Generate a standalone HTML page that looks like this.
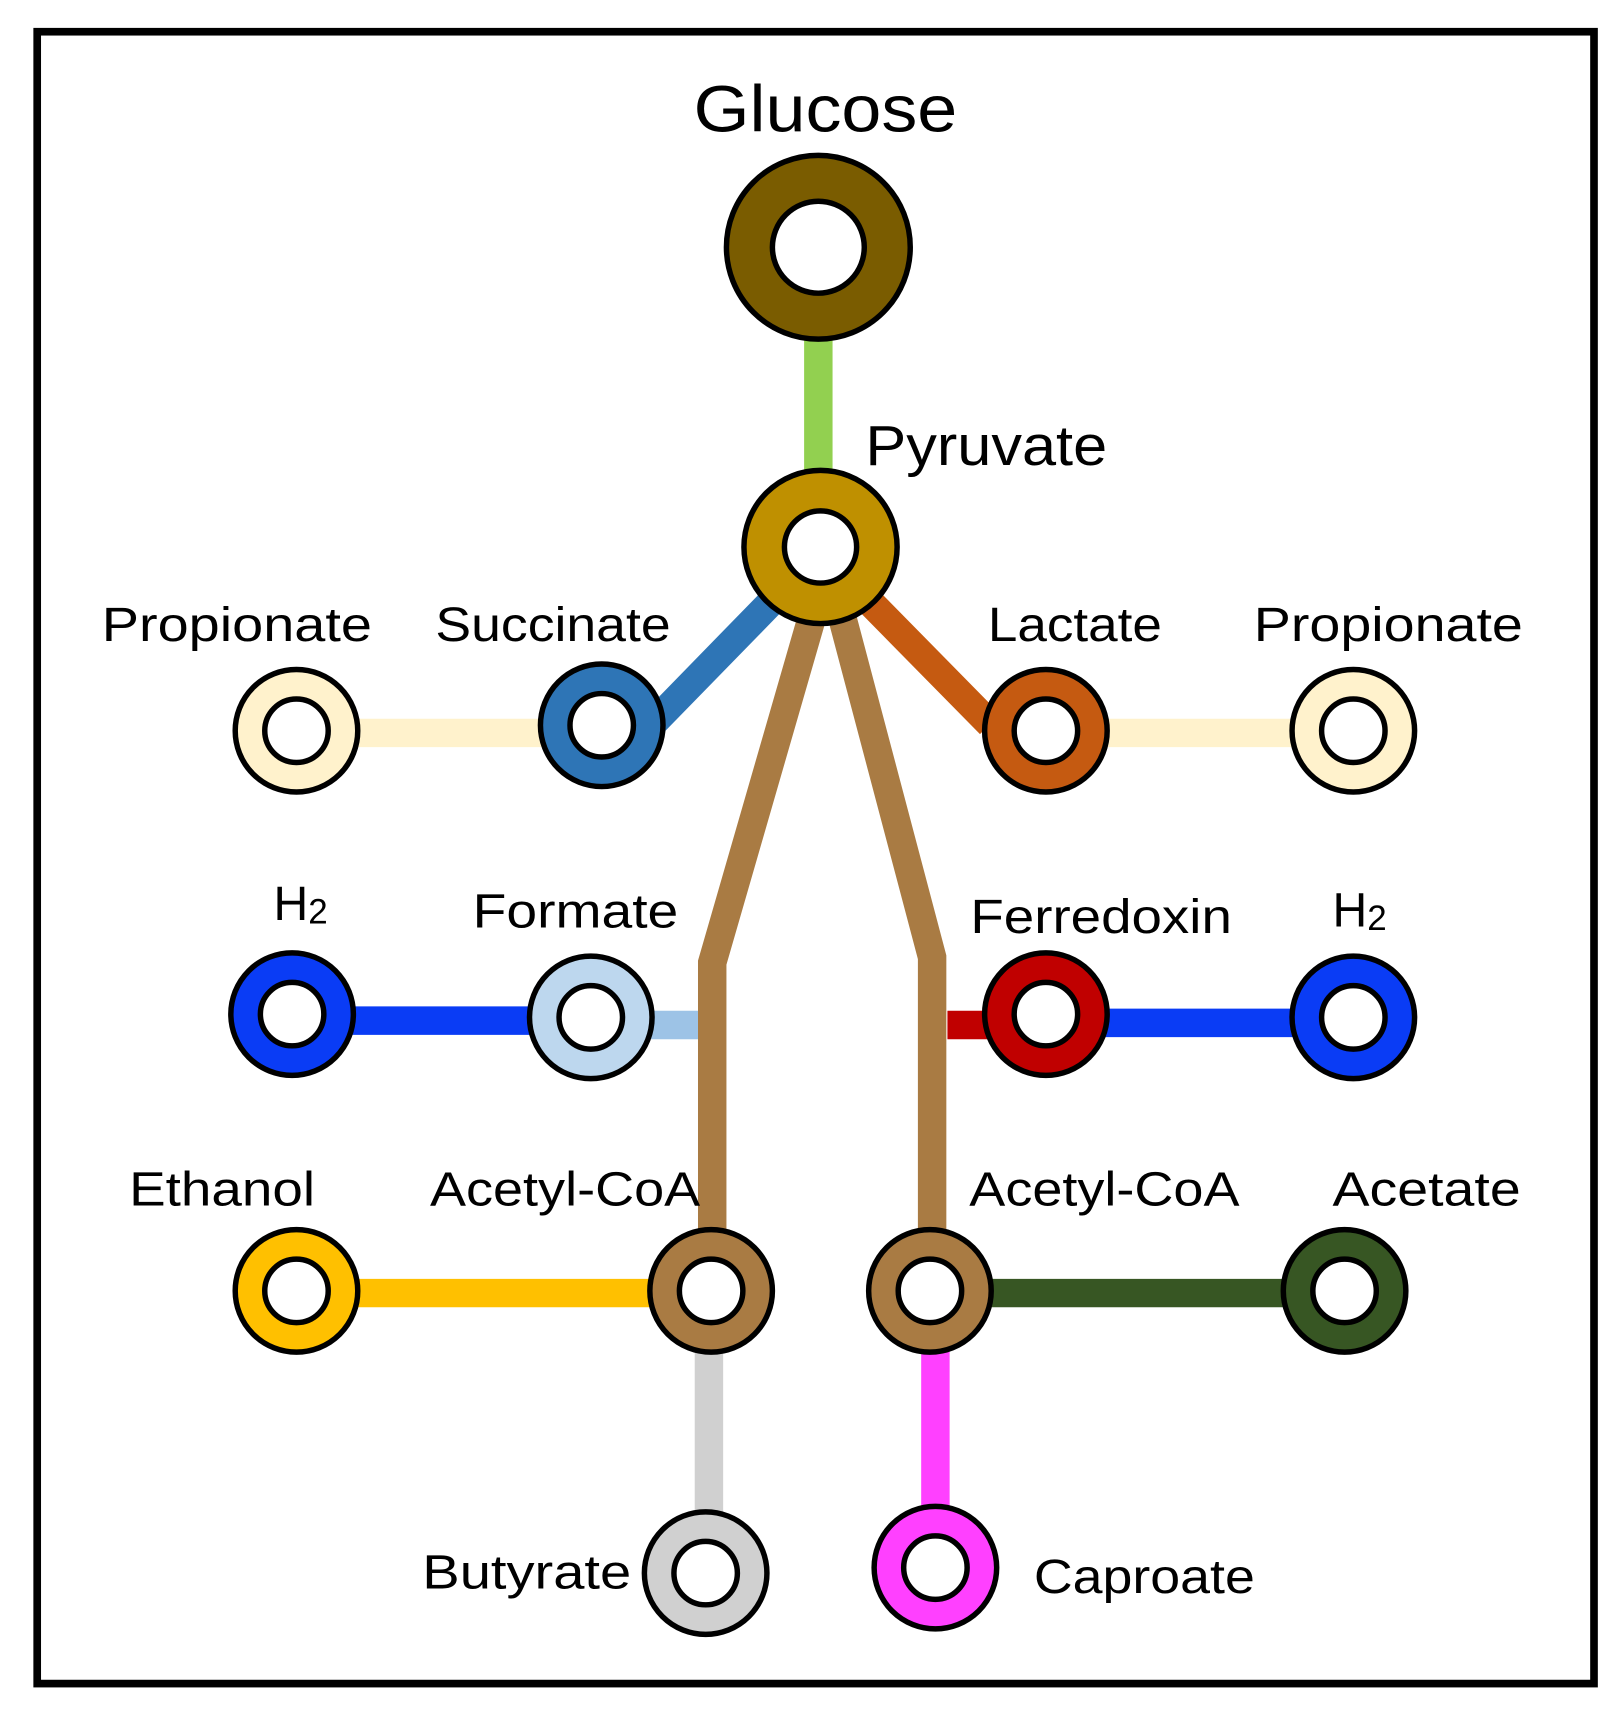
<!DOCTYPE html>
<html><head><meta charset="utf-8"><style>
html,body{margin:0;padding:0;background:#fff;}
svg{display:block;}
text{font-family:"Liberation Sans",sans-serif;fill:#000;}
</style></head><body>
<svg width="1623" height="1714" viewBox="0 0 1483.5 1566.8" preserveAspectRatio="none" xmlns="http://www.w3.org/2000/svg">
<rect x="0" y="0" width="1483.5" height="1566.8" fill="#fff"/>
<rect x="34" y="29" width="1423" height="1510" fill="none" stroke="#000" stroke-width="7"/>
<g fill="none" stroke-width="26">
<line x1="748" y1="300" x2="748" y2="440" stroke="#92d050"/>
<line x1="715" y1="540" x2="598" y2="660" stroke="#2e75b6"/>
<line x1="785" y1="540" x2="905" y2="662" stroke="#c55a11"/>
<line x1="325" y1="670" x2="495" y2="670" stroke="#fff2cc"/>
<line x1="1010" y1="670" x2="1185" y2="670" stroke="#fff2cc"/>
<polyline points="742,565 651,880 651,1130" stroke="#a97b43" stroke-linejoin="miter"/>
<polyline points="770,565 852,875 852,1130" stroke="#a97b43" stroke-linejoin="miter"/>
<line x1="320" y1="933" x2="485" y2="933" stroke="#0a3cf5"/>
<line x1="595" y1="937" x2="638" y2="937" stroke="#9dc3e6"/>
<line x1="866" y1="937" x2="905" y2="937" stroke="#c00000"/>
<line x1="1010" y1="935" x2="1185" y2="935" stroke="#0a3cf5"/>
<line x1="325" y1="1182" x2="595" y2="1182" stroke="#ffc000"/>
<line x1="905" y1="1182" x2="1175" y2="1182" stroke="#375623"/>
<line x1="648" y1="1235" x2="648" y2="1385" stroke="#d0d0d0"/>
<line x1="855" y1="1235" x2="855" y2="1380" stroke="#ff40ff"/>
</g>
<g stroke="#000" stroke-width="5">
<circle cx="748" cy="226" r="84" fill="#7a5c00"/><circle cx="748" cy="226" r="42" fill="#fff"/>
<circle cx="750" cy="500" r="70" fill="#bf9000"/><circle cx="750" cy="500" r="33" fill="#fff"/>
<circle cx="271" cy="668" r="56" fill="#fff2cc"/><circle cx="271" cy="668" r="29" fill="#fff"/>
<circle cx="550" cy="663" r="56" fill="#2e75b6"/><circle cx="550" cy="663" r="29" fill="#fff"/>
<circle cx="956" cy="668" r="56" fill="#c55a11"/><circle cx="956" cy="668" r="29" fill="#fff"/>
<circle cx="1237" cy="668" r="56" fill="#fff2cc"/><circle cx="1237" cy="668" r="29" fill="#fff"/>
<circle cx="267" cy="927" r="56" fill="#0a3cf5"/><circle cx="267" cy="927" r="29" fill="#fff"/>
<circle cx="540" cy="930" r="56" fill="#bdd7ee"/><circle cx="540" cy="930" r="29" fill="#fff"/>
<circle cx="956" cy="927" r="56" fill="#c00000"/><circle cx="956" cy="927" r="29" fill="#fff"/>
<circle cx="1237" cy="930" r="56" fill="#0a3cf5"/><circle cx="1237" cy="930" r="29" fill="#fff"/>
<circle cx="271" cy="1180" r="56" fill="#ffc000"/><circle cx="271" cy="1180" r="29" fill="#fff"/>
<circle cx="650" cy="1180" r="56" fill="#a97b43"/><circle cx="650" cy="1180" r="29" fill="#fff"/>
<circle cx="850" cy="1180" r="56" fill="#a97b43"/><circle cx="850" cy="1180" r="29" fill="#fff"/>
<circle cx="1229" cy="1180" r="56" fill="#375623"/><circle cx="1229" cy="1180" r="29" fill="#fff"/>
<circle cx="645" cy="1438" r="56" fill="#d0d0d0"/><circle cx="645" cy="1438" r="29" fill="#fff"/>
<circle cx="855" cy="1433" r="56" fill="#ff40ff"/><circle cx="855" cy="1433" r="29" fill="#fff"/>
</g>
<text x="634" y="120" font-size="60" textLength="241" lengthAdjust="spacingAndGlyphs">Glucose</text>
<text x="791" y="425" font-size="52" textLength="221" lengthAdjust="spacingAndGlyphs">Pyruvate</text>
<text x="93" y="586" font-size="44" textLength="247" lengthAdjust="spacingAndGlyphs">Propionate</text>
<text x="398" y="586" font-size="44" textLength="215" lengthAdjust="spacingAndGlyphs">Succinate</text>
<text x="903" y="586" font-size="44" textLength="159" lengthAdjust="spacingAndGlyphs">Lactate</text>
<text x="1146" y="586" font-size="44" textLength="246" lengthAdjust="spacingAndGlyphs">Propionate</text>
<text x="250" y="841" font-size="44">H<tspan font-size="32" dy="3">2</tspan></text>
<text x="432" y="848" font-size="44" textLength="188" lengthAdjust="spacingAndGlyphs">Formate</text>
<text x="887" y="853" font-size="44" textLength="239" lengthAdjust="spacingAndGlyphs">Ferredoxin</text>
<text x="1218" y="847" font-size="44">H<tspan font-size="32" dy="3">2</tspan></text>
<text x="118" y="1102" font-size="44" textLength="170" lengthAdjust="spacingAndGlyphs">Ethanol</text>
<text x="393" y="1102" font-size="44" textLength="247" lengthAdjust="spacingAndGlyphs">Acetyl-CoA</text>
<text x="886" y="1102" font-size="44" textLength="247" lengthAdjust="spacingAndGlyphs">Acetyl-CoA</text>
<text x="1218" y="1102" font-size="44" textLength="172" lengthAdjust="spacingAndGlyphs">Acetate</text>
<text x="386" y="1452" font-size="44" textLength="191" lengthAdjust="spacingAndGlyphs">Butyrate</text>
<text x="945" y="1456" font-size="44" textLength="202" lengthAdjust="spacingAndGlyphs">Caproate</text>
</svg>
</body></html>
